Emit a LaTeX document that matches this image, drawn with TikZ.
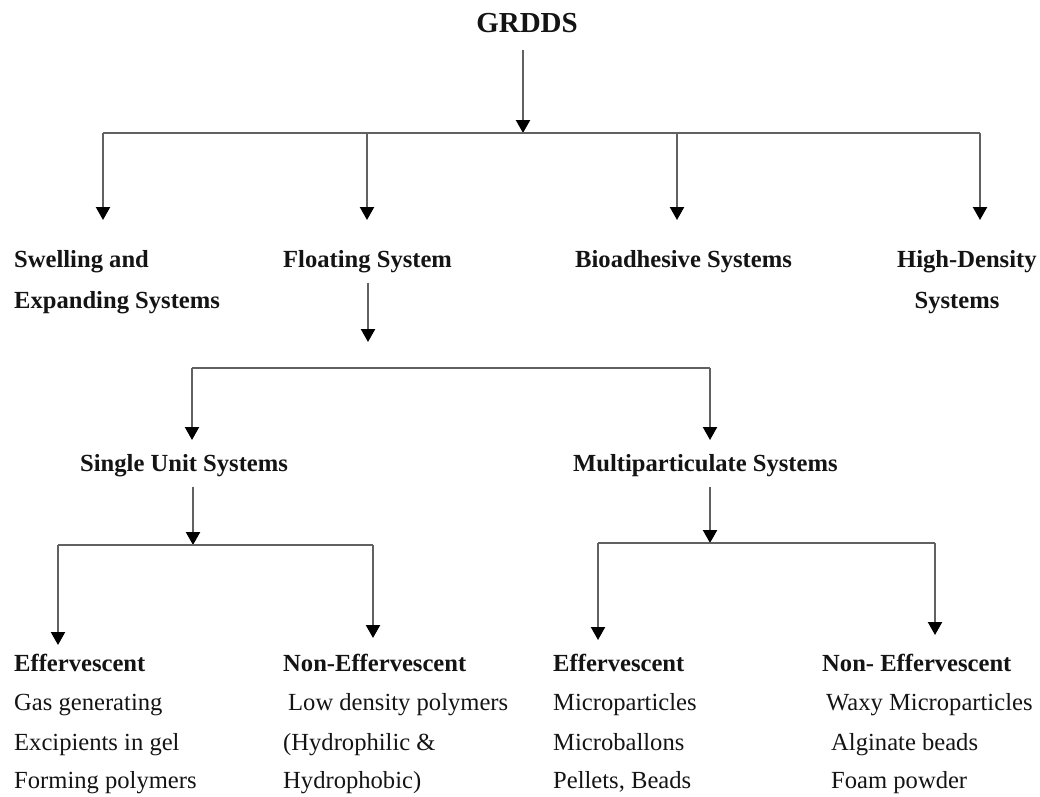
\documentclass[tikz,border=0pt]{standalone}
\usepackage{fontspec}
\setmainfont{Liberation Serif}
\usetikzlibrary{arrows.meta}
\begin{document}
\begin{tikzpicture}[x=1pt,y=-1pt,
  txt/.style={inner sep=0pt,anchor=base west,text=black!92,font=\fontsize{24.6}{30}\selectfont},
  head/.style={txt,font=\fontsize{24.6}{30}\selectfont\bfseries},
  ttl/.style={inner sep=0pt,anchor=base,text=black!92,font=\fontsize{29}{34}\selectfont\bfseries},
  bar/.style={draw=black!62,line width=2.2pt},
  arr/.style={bar,-{Triangle[width=14pt,length=13pt,color=black]}}]
\useasboundingbox (0,0) rectangle (1040,796);

% title
\node[ttl] (grdds) at (527,32) {GRDDS};
\coordinate (b0) at (523,133);
\coordinate (b1) at (103,133);
\coordinate (b2) at (367,133);
\coordinate (b3) at (677,133);
\coordinate (b4) at (980,133);
\coordinate (t1) at (103,220);
\coordinate (t2) at (367,220);
\coordinate (t3) at (677,220);
\coordinate (t4) at (980,220);
\draw[arr] ([yshift=-18pt]grdds.south -| b0) -- (b0);
\draw[bar] (b1) -- (b4);
\draw[arr] (b1) -- (t1);
\draw[arr] (b2) -- (t2);
\draw[arr] (b3) -- (t3);
\draw[arr] (b4) -- (t4);

% level 1
\node[head] (swell1) at (14,267) {Swelling and};
\node[head] (swell2) at (14,308) {Expanding Systems};
\node[head] (float) at (283,267) {Floating System};
\node[head] (bio) at (575,267) {Bioadhesive Systems};
\node[head] (hd1) at (897,267) {High-Density};
\node[head,anchor=base] (hd2) at (957,308) {Systems};

% floating branch
\coordinate (f0) at (368,282);
\coordinate (f1) at (368,342);
\coordinate (fb1) at (192,368);
\coordinate (fb2) at (710,368);
\coordinate (ft1) at (192,440);
\coordinate (ft2) at (710,440);
\draw[arr] (float.south -| f0) ++(0,10) -- (f1);
\draw[bar] (fb1) -- (fb2);
\draw[arr] (fb1) -- (ft1);
\draw[arr] (fb2) -- (ft2);

\node[head] (single) at (80,471) {Single Unit Systems};
\node[head] (multi) at (573,471) {Multiparticulate Systems};

% single unit branch
\coordinate (s0) at (193,545);
\coordinate (sb1) at (58,545);
\coordinate (sb2) at (373,545);
\coordinate (st1) at (58,645);
\coordinate (st2) at (373,638);
\draw[arr] (single.south -| s0) ++(0,10) -- (s0);
\draw[bar] (sb1) -- (sb2);
\draw[arr] (sb1) -- (st1);
\draw[arr] (sb2) -- (st2);

% multiparticulate branch
\coordinate (m0) at (710,543);
\coordinate (mb1) at (598,543);
\coordinate (mb2) at (935,543);
\coordinate (mt1) at (598,640);
\coordinate (mt2) at (935,635);
\draw[arr] (multi.south -| m0) ++(0,10) -- (m0);
\draw[bar] (mb1) -- (mb2);
\draw[arr] (mb1) -- (mt1);
\draw[arr] (mb2) -- (mt2);

% bottom groups
\node[head] (e1) at (14,671) {Effervescent};
\node[txt] (e1a) at (14,710) {Gas generating};
\node[txt] (e1b) at (14,750) {Excipients in gel};
\node[txt] (e1c) at (14,788) {Forming polymers};

\node[head] (n1) at (283,671) {Non-Effervescent};
\node[txt] (n1a) at (288,710) {Low density polymers};
\node[txt] (n1b) at (283,750) {(Hydrophilic \&};
\node[txt] (n1c) at (283,788) {Hydrophobic)};

\node[head] (e2) at (553,671) {Effervescent};
\node[txt] (e2a) at (553,710) {Microparticles};
\node[txt] (e2b) at (553,750) {Microballons};
\node[txt] (e2c) at (553,788) {Pellets, Beads};

\node[head] (n2) at (822,671) {Non- Effervescent};
\node[txt] (n2a) at (826,710) {Waxy Microparticles};
\node[txt] (n2b) at (831,750) {Alginate beads};
\node[txt] (n2c) at (831,788) {Foam powder};
\end{tikzpicture}
\end{document}
